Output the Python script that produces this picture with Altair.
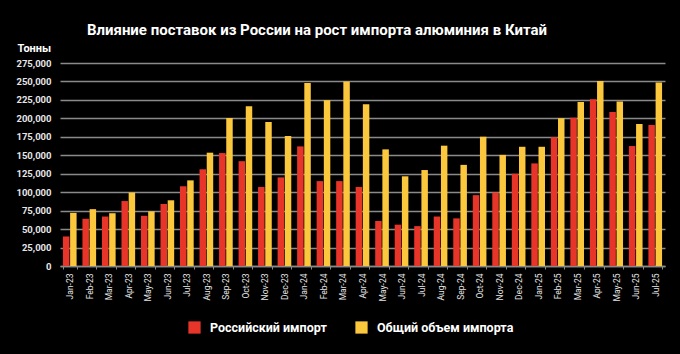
import altair as alt
import pandas as pd

months = ["Jan-23","Feb-23","Mar-23","Apr-23","May-23","Jun-23","Jul-23","Aug-23","Sep-23","Oct-23",
          "Nov-23","Dec-23","Jan-24","Feb-24","Mar-24","Apr-24","May-24","Jun-24","Jul-24","Aug-24",
          "Sep-24","Oct-24","Nov-24","Dec-24","Jan-25","Feb-25","Mar-25","Apr-25","May-25","Jun-25","Jul-25"]
russian = [40000, 64000, 67000, 88000, 68000, 84000, 108000, 131000, 153000, 142000,
           107000, 120000, 162000, 115000, 115000, 107000, 61000, 56000, 54000, 67000,
           64500, 96000, 99500, 125000, 139000, 174500, 201000, 226000, 208500, 162500, 191000]
total = [72000, 77000, 71500, 99500, 74000, 89000, 116000, 153500, 200500, 216500,
         195000, 176000, 248000, 224500, 250000, 219000, 158000, 121500, 130000, 163000,
         137000, 175000, 150500, 161500, 161500, 200000, 222000, 250500, 223000, 192500, 248500]
series_names = ["Российский импорт", "Общий объем импорта"]
colors = ["#e8352a", "#fbc83d"]
title_text = "Влияние поставок из России на рост импорта алюминия в Китай"
y_title = "Тонны"

rows = []
for i, m in enumerate(months):
    rows.append({"month": m, "series": series_names[0], "value": russian[i]})
    rows.append({"month": m, "series": series_names[1], "value": total[i]})
df = pd.DataFrame(rows)

FONT = "Roboto"

bars = alt.Chart(df).mark_bar().encode(
    x=alt.X("month:N", sort=months, title=None,
            scale=alt.Scale(paddingInner=0.3, paddingOuter=0.15),
            axis=alt.Axis(labelAngle=-90, labelFontSize=8.5, labelColor="#e6e6e6",
                          labelFont=FONT, labelPadding=4,
                          domainColor="#8a8a8a", domainWidth=1.5, tickColor="#8a8a8a",
                          tickSize=3, tickBand="extent", grid=False)),
    xOffset=alt.XOffset("series:N", sort=series_names, scale=alt.Scale(paddingInner=0.1)),
    y=alt.Y("value:Q", scale=alt.Scale(domain=[0, 275000], nice=False),
            axis=alt.Axis(values=list(range(0, 275001, 25000)), format=",.0f", title=y_title,
                          titleAngle=0, titleX=-43, titleY=-10, titleAlign="left",
                          titleBaseline="bottom", titleFont=FONT, titleFontSize=11,
                          titleFontWeight="bold", titleColor="#ffffff",
                          labelFont=FONT, labelFontSize=9.5,
                          labelFontWeight="bold", labelColor="#e6e6e6", labelPadding=9,
                          ticks=False, domain=False, gridColor="#8a8a8a", gridWidth=1.5)),
    color=alt.Color("series:N", sort=series_names,
                    scale=alt.Scale(domain=series_names, range=colors),
                    legend=alt.Legend(title=None, orient="none", legendX=128, legendY=258,
                                      direction="horizontal", symbolType="square",
                                      symbolSize=150, symbolStrokeWidth=0,
                                      labelFont=FONT, labelFontSize=12.5, labelFontWeight="bold",
                                      labelColor="#ffffff", columnPadding=28, labelOffset=9,
                                      labelLimit=300)),
)

title = alt.Chart(pd.DataFrame({"t": [title_text]})).mark_text(
    font=FONT, fontSize=15, fontWeight="bold", color="#ffffff", align="center", baseline="alphabetic"
).encode(text="t:N", x=alt.value(257), y=alt.value(-28))

chart = alt.layer(bars, title).properties(
    width=605, height=203,
    background="#000000",
    padding={"left": 60, "top": 63, "right": 15, "bottom": 88},
    autosize=alt.AutoSizeParams(type="none"),
).configure_view(stroke=None)

chart.save("out.html", embed_options={"renderer": "svg", "actions": False})
